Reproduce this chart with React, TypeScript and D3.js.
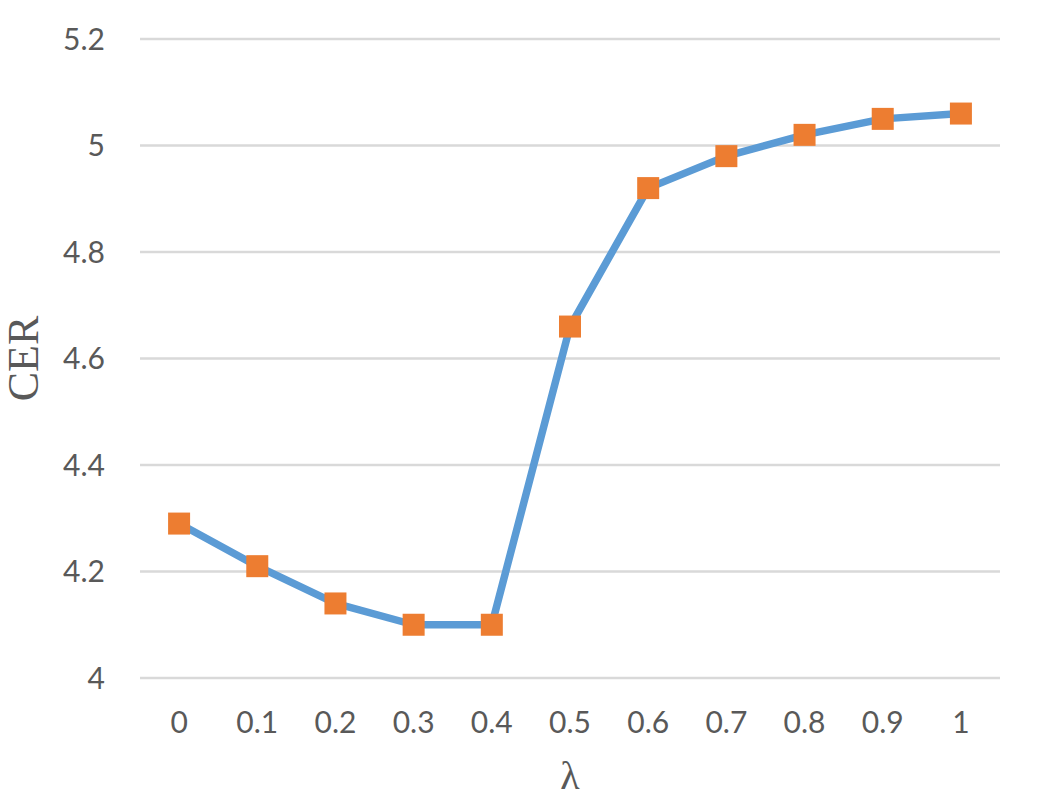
import React from "react";
import * as d3 from "d3";

const categories = ["0", "0.1", "0.2", "0.3", "0.4", "0.5", "0.6", "0.7", "0.8", "0.9", "1"];
const values = [4.29, 4.21, 4.14, 4.10, 4.10, 4.66, 4.92, 4.98, 5.02, 5.05, 5.06];
const yTicks = [4, 4.2, 4.4, 4.6, 4.8, 5, 5.2];
const yTickLabels = ["4", "4.2", "4.4", "4.6", "4.8", "5", "5.2"];

export default function App() {
  const W = 1037, H = 803;
  const left = 140, right = 1000, top = 39, bottom = 678;
  const x = d3.scalePoint<string>().domain(categories).range([left, right]).padding(0.5);
  const y = d3.scaleLinear().domain([4, 5.2]).range([bottom, top]);
  const line = d3.line<number>().x((_, i) => x(categories[i])!).y((d) => y(d));
  const font = "Lato, 'Open Sans', sans-serif";
  return (
    <svg width={W} height={H} style={{ position: "absolute", left: 0, top: 0, background: "#fff" }}>
      {yTicks.map((t, i) => (
        <g key={t}>
          <line x1={left} x2={right} y1={y(t)} y2={y(t)} stroke="#d9d9d9" strokeWidth={2.5} />
          <text x={105} y={y(t)} dy="0.36em" textAnchor="end" fontFamily={font} fontSize={30} fill="#595959">
            {yTickLabels[i]}
          </text>
        </g>
      ))}
      {categories.map((c) => (
        <text key={c} x={x(c)} y={733} textAnchor="middle" fontFamily={font} fontSize={30} fill="#595959">
          {c}
        </text>
      ))}
      <path d={line(values)!} fill="none" stroke="#5B9BD5" strokeWidth={7.5} strokeLinejoin="round" strokeLinecap="round" />
      {values.map((v, i) => (
        <rect key={i} x={x(categories[i])! - 11} y={y(v) - 11} width={22} height={22} fill="#ED7D31" />
      ))}
      <text
        transform={`translate(38, ${(top + bottom) / 2}) rotate(-90)`}
        textAnchor="middle"
        fontFamily="'Liberation Serif', 'Times New Roman', serif"
        fontSize={44}
        fill="#595959"
      >
        CER
      </text>
      <text x={570} y={789} textAnchor="middle" fontFamily="'Liberation Serif', 'Times New Roman', serif" fontSize={40} fill="#595959">
        λ
      </text>
    </svg>
  );
}
